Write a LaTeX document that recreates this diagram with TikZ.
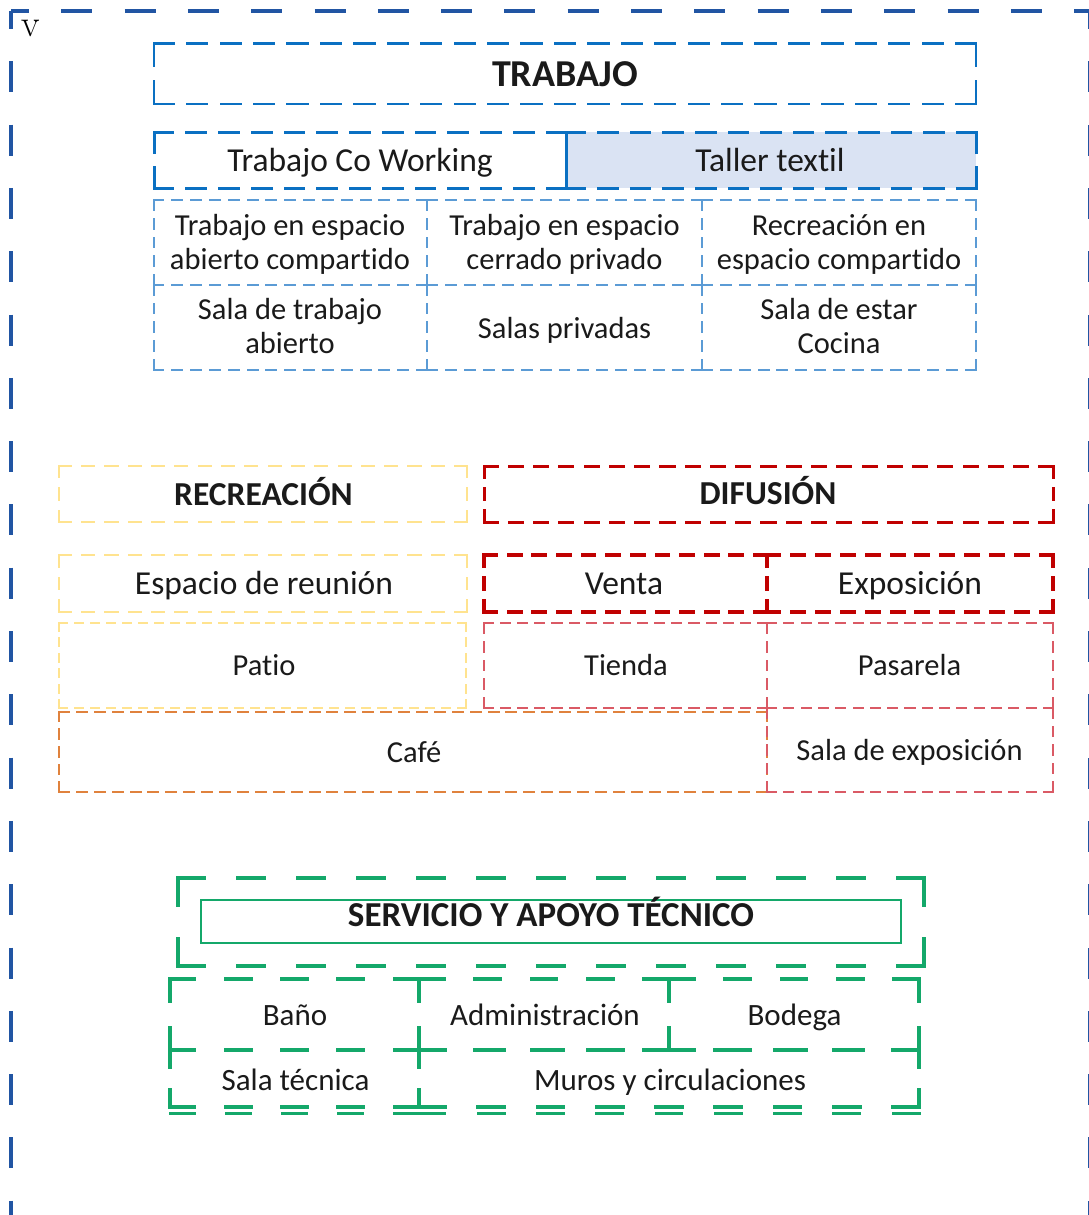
\documentclass[tikz,border=0pt]{standalone}
\usepackage{fontspec}
\newfontfamily\cf[Ligatures=CommonOff]{Carlito}
\definecolor{outerblue}{HTML}{2155A3}
\definecolor{tblue}{HTML}{0A70C2}
\definecolor{lblue}{HTML}{5B9BD5}
\definecolor{tfill}{HTML}{DAE3F3}
\definecolor{ryel}{HTML}{FFE38F}
\definecolor{dred}{HTML}{C00000}
\definecolor{lred}{HTML}{DA5A65}
\definecolor{orng}{HTML}{E0823D}
\definecolor{sgreen}{HTML}{14A86A}
\definecolor{txt}{HTML}{1A1A1A}
% dashed segment whose pattern is scaled to start and end with a dash
\newcommand\dseg[7]{%
 \pgfmathsetmacro\dL{veclen(#6-#4,#7-#5)}%
 \pgfmathsetmacro\dN{max(1,round((\dL-#2)/(#2+#3)))}%
 \pgfmathsetmacro\dF{\dL/(\dN*(#2+#3)+#2)}%
 \pgfmathsetmacro\dOn{#2*\dF}%
 \pgfmathsetmacro\dOff{#3*\dF}%
 \draw[#1, dash pattern=on \dOn pt off \dOff pt] (#4,#5) -- (#6,#7);}
\newcommand\dbox[7]{%
 \dseg{#1}{#2}{#3}{#4}{#5}{#6}{#5}%
 \dseg{#1}{#2}{#3}{#6}{#5}{#6}{#7}%
 \dseg{#1}{#2}{#3}{#4}{#7}{#6}{#7}%
 \dseg{#1}{#2}{#3}{#4}{#5}{#4}{#7}}
\tikzset{
 outerb/.style={draw=outerblue, line width=4.5pt, dash pattern=on 31pt off 32.3pt, dash phase=13pt},
 tb/.style={draw=tblue, line width=2.5pt, line cap=rect},
 tbb/.style={draw=tblue, line width=3pt, line cap=rect},
 lb/.style={draw=lblue, line width=2pt, line cap=rect},
 yb/.style={draw=ryel, line width=2.5pt, line cap=rect},
 ybt/.style={draw=ryel, line width=2pt, line cap=rect},
 rb/.style={draw=dred, line width=3pt, line cap=rect},
 rbb/.style={draw=dred, line width=3.5pt, line cap=rect},
 lr/.style={draw=lred, line width=2pt, line cap=rect},
 ob/.style={draw=orng, line width=2pt, line cap=rect},
 gb/.style={draw=sgreen, line width=4pt, line cap=rect},
 gbt/.style={draw=sgreen, line width=3pt, line cap=rect},
 hdr/.style={font=\cf\bfseries\fontsize{38}{40}\selectfont, text=txt, anchor=base, inner sep=0pt},
 sec/.style={font=\cf\bfseries\fontsize{33.5}{36}\selectfont, text=txt, anchor=base, inner sep=0pt},
 svt/.style={font=\cf\bfseries\fontsize{35}{38}\selectfont, text=txt, anchor=base, inner sep=0pt},
 big/.style={font=\cf\fontsize{33.5}{36}\selectfont, text=txt, anchor=base, inner sep=0pt},
 mid/.style={font=\cf\fontsize{30.5}{34}\selectfont, text=txt, anchor=base, inner sep=0pt},
 svl/.style={font=\cf\fontsize{31}{34}\selectfont, text=txt, anchor=base, inner sep=0pt},
}
\begin{document}
\begin{tikzpicture}[x=1pt,y=-1pt]
\useasboundingbox (0,0) rectangle (1089,1215);
% outer frame
\draw[outerb] (11,11) -- (1110,11);
\draw[outerb] (11,11) -- (11,1240);
\draw[outerb] (1090,11) -- (1090,1240);
\node[font=\fontsize{38}{38}\selectfont, anchor=base, inner sep=0pt] (v) at (30.5,36.7) {v};
% TRABAJO
\dbox{tb}{19.5}{13.5}{154}{43.5}{976}{104}
\node[hdr] (trabajo) at (565,86.7) {TRABAJO};
\fill[tfill] (566,132) rectangle (976,188);
\dbox{tbb}{19}{14}{154}{132}{566}{188}
\dbox{tbb}{19}{14}{566}{132}{976}{188}
\draw[tblue, line width=3pt] (566,132) -- (566,188);
\node[big] (cowork) at (360,171) {Trabajo Co Working};
\node[big] (taller) at (770,171) {Taller textil};
\dbox{lb}{10}{9}{153.5}{200}{427}{285}
\dbox{lb}{10}{9}{427}{200}{702}{285}
\dbox{lb}{10}{9}{702}{200}{976}{285}
\dbox{lb}{10}{9}{153.5}{285}{427}{369.5}
\dbox{lb}{10}{9}{427}{285}{702}{369.5}
\dbox{lb}{10}{9}{702}{285}{976}{369.5}
\node[mid] (a1) at (290,235) {Trabajo en espacio};
\node[mid] (a2) at (290,269) {abierto compartido};
\node[mid] (b1) at (564.5,235) {Trabajo en espacio};
\node[mid] (b2) at (564.5,269) {cerrado privado};
\node[mid] (c1) at (839,235) {Recreación en};
\node[mid] (c2) at (839,269) {espacio compartido};
\node[mid] (d1) at (290,319.3) {Sala de trabajo};
\node[mid] (d2) at (290,353.3) {abierto};
\node[mid] (e1) at (564.5,338.3) {Salas privadas};
\node[mid] (f1) at (839,319.3) {Sala de estar};
\node[mid] (f2) at (839,353.3) {Cocina};
% RECREACION
\dbox{yb}{11.5}{11.5}{59}{466}{467}{522}
\dbox{yb}{11.5}{11.5}{59}{555}{467}{612}
\dbox{ybt}{8}{8}{59}{623}{466}{708}
\node[sec] (recre) at (263.5,505) {RECREACIÓN};
\node[big] (reun) at (264,594) {Espacio de reunión};
\node[mid] (patio) at (264,675.7) {Patio};
% DIFUSION
\dbox{rb}{13}{12}{484}{466}{1053}{522}
\dbox{rbb}{12.5}{12.5}{484}{555}{767}{612}
\dbox{rbb}{12.5}{12.5}{767}{555}{1053}{612}
\dbox{lr}{9}{8}{484}{623}{767}{708}
\dbox{lr}{9}{8}{767}{623}{1053}{708}
\dbox{ob}{10}{8}{59}{711.5}{767}{792}
\dbox{lr}{9}{8}{767}{708}{1053}{792}
\node[sec] (difu) at (768,504) {DIFUSIÓN};
\node[big] (venta) at (624,594) {Venta};
\node[big] (expo) at (910,594) {Exposición};
\node[mid] (tienda) at (626,675.5) {Tienda};
\node[mid] (pasa) at (909.5,675.5) {Pasarela};
\node[mid] (cafe) at (414,762) {Café};
\node[mid] (salaexpo) at (909.5,760.7) {Sala de exposición};
% SERVICIO
\dbox{gb}{27}{35}{178}{878}{924}{966}
\draw[sgreen, line width=2pt] (201,899.5) rectangle (901,942.5);
\node[svt] (serv) at (551,926.7) {SERVICIO Y APOYO TÉCNICO};
\dbox{gb}{27}{35}{170}{979}{419}{1050}
\dbox{gb}{27}{35}{419}{979}{669}{1050}
\dbox{gb}{27}{35}{669}{979}{919}{1050}
\dbox{gb}{27}{35}{170}{1050}{419}{1107}
\dbox{gb}{27}{35}{419}{1050}{919}{1107}
\dseg{gbt}{27}{35}{170}{1113}{419}{1113}
\dseg{gbt}{27}{35}{419}{1113}{919}{1113}
\node[svl] (bano) at (295,1025.7) {Baño};
\node[svl] (admin) at (545,1025.7) {Administración};
\node[svl] (bodega) at (794.5,1025.7) {Bodega};
\node[svl] (salatec) at (295.5,1090) {Sala técnica};
\node[svl] (muros) at (670,1090) {Muros y circulaciones};
\end{tikzpicture}
\end{document}
